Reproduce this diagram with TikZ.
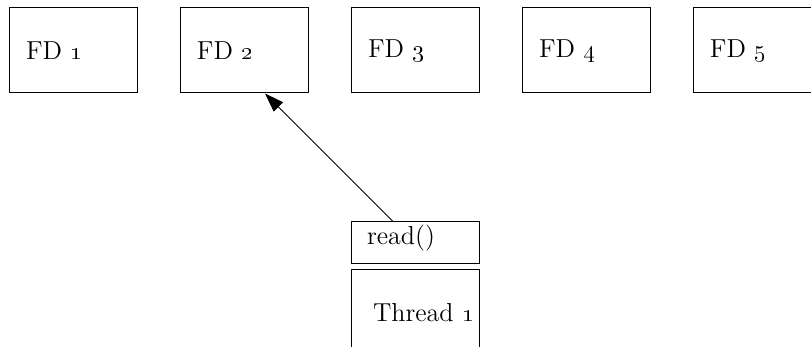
\documentclass[tikz,border=0pt]{standalone}
\usetikzlibrary{arrows.meta}

\tikzset{
    fdbox/.style={draw, rectangle, line width=0.5pt, minimum width=64pt, minimum height=42.5pt,
        text width=47pt, inner xsep=8.5pt, align=left,
        font=\fontsize{13}{15}\selectfont},
    callbox/.style={draw, rectangle, line width=0.5pt, minimum width=64pt, minimum height=21pt,
        text width=48pt, inner xsep=8pt, inner ysep=1.5pt, align=left,
        text height=9.75pt, text depth=8.25pt,
        font=\fontsize{13}{15}\selectfont},
}

\begin{document}
\begin{tikzpicture}[x=0.5pt,y=-0.5pt] % one unit = one pixel of the sketch
    % Frame of the picture
    \clip (0,0) rectangle (811,347);
    \useasboundingbox (0,0) rectangle (811,347);

    % File descriptors
    \node[fdbox] (fd1) at (73,50.5) {FD \oldstylenums{1}};
    \node[fdbox] (fd2) at (244,50.5) {FD \oldstylenums{2}};
    \node[fdbox] (fd3) at (415,50.5) {FD \oldstylenums{3}};
    \node[fdbox] (fd4) at (586,50.5) {FD \oldstylenums{4}};
    \node[fdbox] (fd5) at (757,50.5) {FD \oldstylenums{5}};

    % Thread and its call
    \node[callbox] (read) at (415,243) {read()};
    \node[fdbox, text width=42pt, inner xsep=11pt] (thread) at (415,312.5)
        {\mbox{Thread \oldstylenums{1}}};

    % The call reads from FD 2
    \draw[line width=0.5pt, -{Triangle[length=9.5pt,width=6.5pt]}] ([xshift=-11pt]read.north) -- ([xshift=10.5pt]fd2.south);
\end{tikzpicture}
\end{document}
